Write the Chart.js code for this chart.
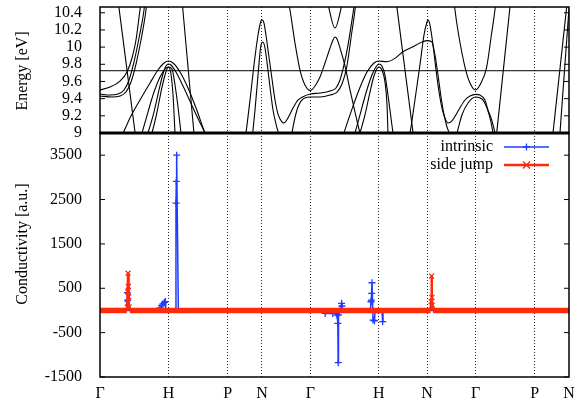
<!DOCTYPE html>
<html>
<head>
<meta charset="utf-8">
<script src="https://cdn.jsdelivr.net/npm/chart.js@4.4.0/dist/chart.umd.min.js"></script>
<style>
  html, body { margin: 0; padding: 0; background: #fff; }
  #wrap { position: relative; width: 582px; height: 403px; }
  #wrap canvas { position: absolute; left: 0; top: 0; }
</style>
</head>
<body>
<div id="wrap">
  <canvas id="bands" width="582" height="140"></canvas>
  <canvas id="cond" width="582" height="403"></canvas>
</div>
<script>
// k-path (bcc): high symmetry points and their path positions
var kTicks = [0, 1, 1.866, 2.366, 3.073, 4.073, 4.780, 5.487, 6.353, 6.853];
var kLabels = ['Γ', 'H', 'P', 'N', 'Γ', 'H', 'N', 'Γ', 'P', 'N'];
var energyTicks = [9, 9.2, 9.4, 9.6, 9.8, 10, 10.2, 10.4];
var condTicks = [-1500, -500, 500, 1500, 2500, 3500];
var fermiLevel = 9.725;

// band structure, [k, E in eV]
var band1 = [[0,9.501],[0.146,9.535],[0.292,9.605],[0.394,9.710],[0.468,9.873],[0.526,10.083],[0.584,10.432],[0.606,10.548]];
var band2 = [[0,9.454],[0.146,9.442],[0.263,9.454],[0.351,9.501],[0.424,9.617],[0.497,9.827],[0.570,10.106],[0.643,10.432],[0.657,10.548]];
var band3 = [[0,9.431],[0.175,9.419],[0.292,9.431],[0.380,9.477],[0.453,9.594],[0.526,9.803],[0.599,10.083],[0.672,10.432],[0.687,10.548]];
var band4 = [[0.263,10.548],[0.526,8.919]];
var band5 = [[0.263,8.919],[0.336,9.0],[0.438,9.175],[0.584,9.384],[0.731,9.582],[0.847,9.733],[0.935,9.815],[1.0,9.838],[1.067,9.815],[1.169,9.710],[1.286,9.524],[1.403,9.291],[1.534,9.0],[1.563,8.942]];
var band6 = [[0.672,8.919],[0.701,9.0],[0.789,9.244],[0.862,9.501],[0.920,9.687],[0.964,9.780],[1.0,9.803],[1.037,9.792],[1.110,9.710],[1.227,9.524],[1.373,9.268],[1.534,9.0]];
var band7 = [[0.584,8.919],[0.614,9.0],[0.701,9.244],[0.789,9.477],[0.877,9.652],[0.950,9.745],[1.0,9.768],[1.052,9.745],[1.096,9.559],[1.140,9.303],[1.183,9.0]];
var band8 = [[0.731,8.919],[0.760,9.0],[0.833,9.244],[0.891,9.477],[0.950,9.675],[1.0,9.768],[1.037,9.687],[1.067,9.442],[1.096,9.0]];
var band9 = [[1.198,10.548],[1.384,8.9]];
var band10 = [[2.118,8.919],[2.133,9.0],[2.192,9.384],[2.250,9.792],[2.309,10.141],[2.352,10.304],[2.367,10.315],[2.396,10.280],[2.425,10.141],[2.455,9.966],[2.509,9.655],[2.557,9.384],[2.605,9.210],[2.655,9.132],[2.688,9.116],[2.747,9.175],[2.820,9.291],[2.893,9.384],[2.966,9.422],[3.073,9.454],[3.214,9.466],[3.361,9.489],[3.448,9.524],[3.507,9.617],[3.565,9.792],[3.624,10.024],[3.682,10.315],[3.711,10.467],[3.726,10.548]];
var band11 = [[2.221,8.919],[2.265,9.268],[2.309,9.675],[2.352,10.024],[2.382,10.059],[2.411,9.989],[2.440,9.826],[2.484,9.535],[2.528,9.268],[2.582,9.070],[2.605,9.0],[2.615,8.919]];
var band12 = [[2.791,8.919],[2.805,9.0],[2.878,9.268],[2.951,9.384],[3.073,9.419],[3.214,9.419],[3.361,9.442],[3.463,9.477],[3.536,9.570],[3.605,9.768],[3.678,10.164],[3.726,10.432],[3.740,10.548]];
var band13 = [[2.747,10.548],[2.776,10.432],[2.849,10.048],[2.922,9.733],[2.995,9.559],[3.073,9.495],[3.141,9.547],[3.214,9.652],[3.288,9.815],[3.361,9.989],[3.404,10.083],[3.434,10.118],[3.463,10.094],[3.507,9.989],[3.580,9.780],[3.653,9.501],[3.726,9.244],[3.799,9.0],[3.828,8.919]];
var band14 = [[3.317,10.548],[3.434,10.222],[3.551,10.548]];
var band15 = [[3.536,8.919],[3.565,9.0],[3.667,9.244],[3.784,9.501],[3.901,9.710],[4.004,9.815],[4.073,9.838],[4.189,9.830],[4.310,9.869],[4.427,9.946],[4.573,10.004],[4.675,10.048],[4.774,10.075],[4.846,10.063],[4.895,9.908],[4.939,9.675],[4.983,9.419],[5.027,9.210],[5.070,9.070],[5.100,9.0],[5.114,8.919]];
var band16 = [[3.697,8.919],[3.726,9.0],[3.799,9.210],[3.886,9.466],[3.974,9.675],[4.032,9.768],[4.073,9.803],[4.120,9.780],[4.164,9.675],[4.208,9.442],[4.252,9.175],[4.281,9.0],[4.296,8.919]];
var band17 = [[3.770,8.919],[3.799,9.0],[3.872,9.210],[3.945,9.477],[4.003,9.664],[4.073,9.768],[4.120,9.733],[4.164,9.594],[4.194,9.326],[4.208,9.0]];
var band18 = [[4.325,10.548],[4.588,8.919]];
var band19 = [[4.500,8.919],[4.529,9.0],[4.602,9.384],[4.675,9.792],[4.734,10.141],[4.778,10.292],[4.793,10.315],[4.822,10.257],[4.866,10.024],[4.910,9.733],[4.954,9.477],[4.997,9.291],[5.041,9.175],[5.085,9.116],[5.143,9.140],[5.216,9.233],[5.333,9.384],[5.406,9.431],[5.487,9.450],[5.552,9.442],[5.625,9.384],[5.669,9.268],[5.723,9.151],[5.771,9.0],[5.786,8.919]];
var band20 = [[5.187,8.919],[5.216,9.0],[5.289,9.210],[5.377,9.349],[5.487,9.419],[5.582,9.396],[5.655,9.291],[5.713,9.128],[5.742,9.0],[5.757,8.919]];
var band21 = [[5.172,10.548],[5.187,10.432],[5.236,10.164],[5.333,9.768],[5.406,9.582],[5.487,9.501],[5.567,9.582],[5.650,9.768],[5.723,10.164],[5.771,10.432],[5.786,10.548]];
var band22 = [[5.786,8.919],[6.001,10.548]];
var band23 = [[6.619,9.0],[6.83,10.548]];
var band24 = [[6.721,9.0],[6.853,10.45]];
var bands = [band1, band2, band3, band4, band5, band6, band7, band8, band9, band10, band11, band12,
             band13, band14, band15, band16, band17, band18, band19, band20, band21, band22, band23, band24];

// conductivity along the path
var intrinsicK = [0, 0.39, 0.40, 0.405, 0.41, 0.86, 0.877, 0.90, 0.92, 0.94, 0.955, 0.96, 1.10, 1.11, 1.115, 1.12, 1.145,
                  3.27, 3.29, 3.40, 3.455, 3.465, 3.475, 3.48, 3.485, 3.53, 3.535, 3.545,
                  3.95, 3.96, 3.965, 3.97, 3.975, 3.99, 4.01, 4.02, 4.12, 4.13, 4.135, 6.853];
var intrinsicV = [0, 0, 400, 230, 0, 0, 60, 110, 150, 180, 200, 0, 0, 2420, 2910, 3500, 0,
                  0, -66, -66, -70, -104, -291, -1178, -100, 160, 100, 0,
                  0, 196, 234, 385, 624, -216, -232, 0, 0, -250, 0, 0];
var sideJumpK = [0, 0.39, 0.40, 0.405, 0.41, 0.415, 0.42, 0.425, 0.435, 4.83, 4.84, 4.845, 4.85, 4.855, 4.865, 6.853];
var sideJumpV = [0, 0, 160, 420, 840, 540, 310, 80, 0, 0, 200, 775, 295, 120, 0, 0];

var BLUE = '#1f3cff';
var RED = '#ff2a0a';
var FONT = '"Liberation Serif", "Times New Roman", serif';

Chart.defaults.font.family = FONT;
Chart.defaults.font.size = 16;
Chart.defaults.color = '#000';

function toXY(arr) { return arr.map(function (p) { return {x: p[0], y: p[1]}; }); }
function pairs(ks, vs) { return ks.map(function (k, i) { return {x: k, y: vs[i]}; }); }
function setTicks(list) { return function (scale) { scale.ticks = list.map(function (v) { return {value: v}; }); }; }
// fixed box sizes, no extra room for overhanging labels
function fixWidth(w) { return function (s) { s.width = w; s.paddingTop = 0; s.paddingBottom = 0; }; }
function fixHeight(h) { return function (s) { s.height = h; s.paddingLeft = 0; s.paddingRight = 0; }; }

var xGrid = {
  color: function (c) { return (c.index === 0 || c.index === kTicks.length - 1) ? 'rgba(0,0,0,0)' : '#222'; },
  lineWidth: 1,
  drawTicks: false
};

// gnuplot-like box with inward mirrored tics and a rotated axis title
var gnuFrame = {
  id: 'gnuFrame',
  afterDraw: function (chart, args, opts) {
    var ctx = chart.ctx, a = chart.chartArea, ys = chart.scales.y;
    ctx.save();
    ctx.strokeStyle = '#000';
    ctx.lineWidth = 1.5;
    ctx.strokeRect(a.left, a.top, a.right - a.left, a.bottom - a.top);
    if (opts.thickBottom) {
      ctx.lineWidth = 3;
      ctx.beginPath(); ctx.moveTo(a.left, a.bottom); ctx.lineTo(a.right, a.bottom); ctx.stroke();
    }
    ctx.lineWidth = 1;
    ys.ticks.forEach(function (t) {
      var y = ys.getPixelForValue(t.value);
      ctx.beginPath();
      ctx.moveTo(a.left, y); ctx.lineTo(a.left + 5, y);
      ctx.moveTo(a.right, y); ctx.lineTo(a.right - 5, y);
      ctx.stroke();
    });
    ctx.translate(opts.titleX, opts.titleY);
    ctx.rotate(-Math.PI / 2);
    ctx.font = '16px ' + FONT;
    ctx.fillStyle = '#000';
    ctx.textAlign = 'center';
    ctx.textBaseline = 'middle';
    ctx.fillText(opts.title, 0, 0);
    ctx.restore();
  }
};

function marker(ctx, style, x, y, r) {
  ctx.beginPath();
  if (style === 'cross') {
    ctx.moveTo(x - r, y); ctx.lineTo(x + r, y);
    ctx.moveTo(x, y - r); ctx.lineTo(x, y + r);
  } else {
    ctx.moveTo(x - r, y - r); ctx.lineTo(x + r, y + r);
    ctx.moveTo(x - r, y + r); ctx.lineTo(x + r, y - r);
  }
  ctx.stroke();
}

// key in the gnuplot way: text right aligned, then sample line
var gnuKey = {
  id: 'gnuKey',
  afterDraw: function (chart, args, opts) {
    var ctx = chart.ctx;
    ctx.save();
    ctx.font = '16px ' + FONT;
    ctx.textAlign = 'right';
    ctx.textBaseline = 'middle';
    opts.rows.forEach(function (r) {
      ctx.fillStyle = '#000';
      ctx.fillText(r.label, opts.textRight, r.y);
      ctx.strokeStyle = r.color;
      ctx.lineWidth = r.width;
      ctx.beginPath(); ctx.moveTo(opts.lineFrom, r.y); ctx.lineTo(opts.lineTo, r.y); ctx.stroke();
      ctx.lineWidth = 1.3;
      marker(ctx, r.style, (opts.lineFrom + opts.lineTo) / 2, r.y, 3.5);
    });
    ctx.restore();
  }
};

var bandSets = bands.map(function (b) {
  return {
    data: toXY(b),
    borderColor: '#000',
    borderWidth: 1.1,
    pointRadius: 0,
    cubicInterpolationMode: 'monotone'
  };
});
bandSets.push({
  data: [{x: kTicks[0], y: fermiLevel}, {x: kTicks[kTicks.length - 1], y: fermiLevel}],
  borderColor: '#000',
  borderWidth: 1,
  pointRadius: 0
});

new Chart(document.getElementById('bands'), {
  type: 'line',
  data: { datasets: bandSets },
  options: {
    responsive: false,
    animation: false,
    events: [],
    layout: { padding: { top: 7, right: 13, bottom: 7, left: 0 } },
    plugins: {
      legend: { display: false },
      tooltip: { enabled: false },
      gnuFrame: { title: 'Energy [eV]', titleX: 23, titleY: 71, thickBottom: true }
    },
    scales: {
      x: {
        type: 'linear', min: 0, max: 6.853,
        afterBuildTicks: setTicks(kTicks),
        afterFit: fixHeight(0),
        ticks: { display: false },
        grid: xGrid,
        border: { display: false, dash: [1, 2] }
      },
      y: {
        min: 9, max: 10.467,
        afterBuildTicks: setTicks(energyTicks),
        afterFit: fixWidth(100),
        ticks: { padding: 10, autoSkip: false,
                 callback: function (v) { return String(Math.round(v * 10) / 10); } },
        grid: { display: false },
        border: { display: false }
      }
    }
  },
  plugins: [gnuFrame]
});

new Chart(document.getElementById('cond'), {
  type: 'line',
  data: {
    datasets: [{
      label: 'side jump',
      data: pairs(sideJumpK, sideJumpV),
      order: 0,
      borderColor: RED,
      borderWidth: 2.5,
      segment: {
        borderWidth: function (c) { return (c.p0.parsed.y === 0 && c.p1.parsed.y === 0) ? 5.5 : 2.5; }
      },
      pointStyle: 'crossRot',
      pointBorderColor: RED,
      pointBorderWidth: 1.3,
      pointRadius: function (c) { return c.raw && c.raw.y !== 0 ? 3.5 : 0; }
    }, {
      label: 'intrinsic',
      data: pairs(intrinsicK, intrinsicV),
      order: 1,
      borderColor: BLUE,
      borderWidth: 1.5,
      pointStyle: 'cross',
      pointBorderColor: BLUE,
      pointBorderWidth: 1.3,
      pointRadius: function (c) { return c.raw && c.raw.y !== 0 ? 3.5 : 0; }
    }]
  },
  options: {
    responsive: false,
    animation: false,
    events: [],
    layout: { padding: { top: 133, right: 13, bottom: 0, left: 0 } },
    plugins: {
      legend: { display: false },
      tooltip: { enabled: false },
      gnuFrame: { title: 'Conductivity [a.u.]', titleX: 23, titleY: 244 },
      gnuKey: {
        textRight: 493, lineFrom: 504, lineTo: 549,
        rows: [
          { label: 'intrinsic', y: 147, color: BLUE, width: 1.5, style: 'cross' },
          { label: 'side jump', y: 165, color: RED, width: 2.5, style: 'crossRot' }
        ]
      }
    },
    scales: {
      x: {
        type: 'linear', min: 0, max: 6.853,
        afterBuildTicks: setTicks(kTicks),
        afterFit: fixHeight(26),
        ticks: { padding: 7, autoSkip: false, maxRotation: 0,
                 callback: function (v, i) { return kLabels[i]; } },
        grid: xGrid,
        border: { display: false, dash: [1, 2] }
      },
      y: {
        min: -1500, max: 4000,
        afterBuildTicks: setTicks(condTicks),
        afterFit: fixWidth(100),
        ticks: { padding: 10, autoSkip: false, callback: function (v) { return String(v); } },
        grid: { display: false },
        border: { display: false }
      }
    }
  },
  plugins: [gnuFrame, gnuKey]
});
</script>
</body>
</html>
